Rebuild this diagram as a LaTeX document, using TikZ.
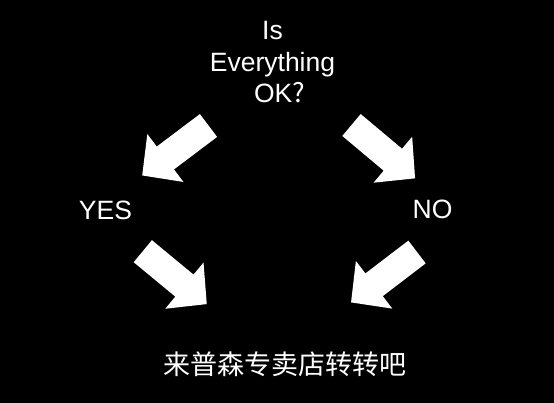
\documentclass[tikz,border=0pt]{standalone}
\usepackage{fontspec}
\setmainfont{Liberation Sans}
\newfontfamily\cjk{Noto Sans CJK SC}
\usetikzlibrary{positioning}

\begin{document}
\begin{tikzpicture}[x=1pt, y=1pt,
  txt/.style={text=white, inner sep=0pt, align=center, font=\fontsize{26.5}{31.5}\selectfont},
  cjktxt/.style={text=white, inner sep=0pt, font=\cjk\fontsize{27}{30}\selectfont},
  bigarrow/.pic={\fill[white] (0,14.3) -- (54,14.3) -- (54,30) -- (83,0) -- (54,-30) -- (54,-14.3) -- (0,-14.3) -- cycle;}
]
  \fill[black] (0,0) rectangle (554,403);

  \node[txt, anchor=south] (ques) at (272.5,299.7) {Is\\Everything\\\hspace*{14pt}OK{\cjk ?}};
  \node[txt] (yes) at (105.5,193) {YES};
  \node[txt] (no) at (432.5,194) {NO};
  \node[cjktxt] (shop) at (285,39) {来普森专卖店转转吧};

  % block arrows
  \pic[rotate=217] (askyes) at (208.5,277.5) {bigarrow};
  \pic[rotate=-40] (askno) at (351.5,278) {bigarrow};
  \pic[rotate=-39.6] (yesshop) at (142.8,151.8) {bigarrow};
  \pic[rotate=217.4] (noshop) at (417,151) {bigarrow};
\end{tikzpicture}
\end{document}
